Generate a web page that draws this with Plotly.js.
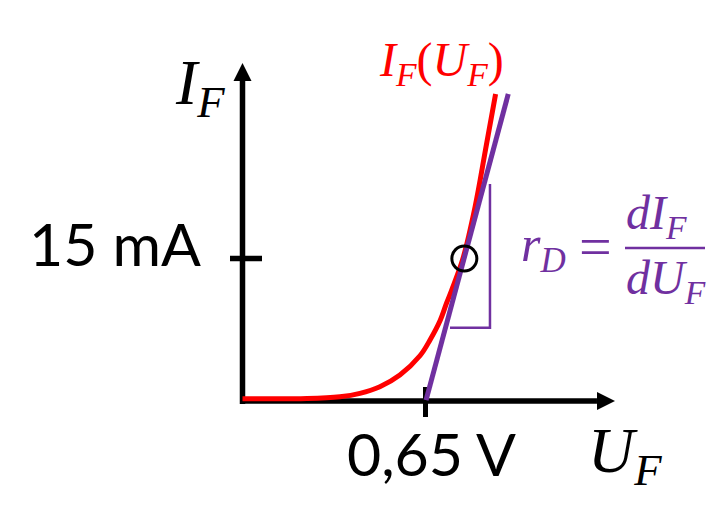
<!DOCTYPE html>
<html>
<head>
<meta charset="utf-8">
<script src="https://cdn.plot.ly/plotly-3.0.1.min.js"></script>
<style>html,body{margin:0;padding:0;background:#fff;}#chart{width:722px;height:509px;}</style>
</head>
<body>
<div id="chart"></div>
<script>
// ---- data (U in V, I in mA) ----
const U_curve = [0, 0.229, 0.346, 0.417, 0.488, 0.559, 0.631, 0.666, 0.702, 0.725, 0.743, 0.783, 0.826, 0.863, 0.899];
const I_curve = [0.24, 0.26, 0.45, 0.81, 1.51, 2.74, 4.79, 6.42, 8.47, 10.32, 11.68, 15.0, 20.42, 26.42, 32.32];
const U_tangent = [0.652, 0.944];
const I_tangent = [0.1, 32.32];
const U_point = [0.788];
const I_point = [15.0];
const U_triangle = [0.737, 0.879, 0.879];
const I_triangle = [7.72, 7.72, 22.84];
const xTickValue = 0.65, xTickLabel = '0,65 V';
const yTickValue = 15, yTickLabel = '15 mA';
const xAxisEnd = 1.323, yAxisEnd = 35.58;

const RED = '#ff0000', PURPLE = '#7030a0';
const W = 722, H = 509;
const xRange = [-0.86134, 1.70314];
const yRange = [-11.368, 42.21];
// helpers for label placement (pixel -> paper)
const px = p => p / W, py = p => 1 - p / H;
const uPerPx = (xRange[1] - xRange[0]) / W, iPerPx = (yRange[1] - yRange[0]) / H;

const traces = [
  {x: U_curve, y: I_curve, mode: 'lines', line: {color: RED, width: 5, shape: 'spline', smoothing: 1}, hoverinfo: 'skip'},
  {x: U_tangent, y: I_tangent, mode: 'lines', line: {color: PURPLE, width: 5}, hoverinfo: 'skip'},
  {x: U_triangle, y: I_triangle, mode: 'lines', line: {color: PURPLE, width: 2.5}, hoverinfo: 'skip'},
  {x: U_point, y: I_point, mode: 'markers', marker: {symbol: 'circle-open', size: 25, color: '#000', line: {width: 3, color: '#000'}}, hoverinfo: 'skip'}
];

const axW = 5.5;
const hw = 9 * uPerPx, hh = 9 * iPerPx, headLenU = 18 * uPerPx, headLenI = 18 * iPerPx;
const shapes = [
  // y axis
  {type: 'line', xref: 'x', yref: 'y', x0: 0, x1: 0, y0: -3 * iPerPx, y1: yAxisEnd - headLenI, line: {color: '#000', width: axW}, layer: 'below'},
  {type: 'path', xref: 'x', yref: 'y', path: `M ${-hw},${yAxisEnd - headLenI} L ${hw},${yAxisEnd - headLenI} L 0,${yAxisEnd} Z`, fillcolor: '#000', line: {width: 0}},
  // x axis
  {type: 'line', xref: 'x', yref: 'y', x0: -2.5 * uPerPx, x1: xAxisEnd - headLenU, y0: 0, y1: 0, line: {color: '#000', width: axW}, layer: 'below'},
  {type: 'path', xref: 'x', yref: 'y', path: `M ${xAxisEnd - headLenU},${-hh} L ${xAxisEnd - headLenU},${hh} L ${xAxisEnd},0 Z`, fillcolor: '#000', line: {width: 0}},
  // ticks
  {type: 'line', xref: 'x', yref: 'y', x0: xTickValue, x1: xTickValue, y0: 14 * iPerPx, y1: -16 * iPerPx, line: {color: '#000', width: 5}, layer: 'below'},
  {type: 'line', xref: 'x', yref: 'y', x0: -12.5 * uPerPx, x1: 19.5 * uPerPx, y0: yTickValue, y1: yTickValue, line: {color: '#000', width: 5.5}, layer: 'below'},
  // fraction bar
  {type: 'line', xref: 'paper', yref: 'paper', x0: px(625), x1: px(705), y0: py(248), y1: py(248), line: {color: PURPLE, width: 2.5}}
];

const serif = 'Liberation Serif, DejaVu Serif, serif';
const sans = 'Lato, Open Sans, sans-serif';
const ann = (text, x, y, size, color, family, xa, ya) => ({
  text, xref: 'paper', yref: 'paper', x: px(x), y: py(y), showarrow: false,
  xanchor: xa, yanchor: ya, font: {size, color, family}, borderpad: 0
});
const annotations = [
  ann('<i>I</i><sub><i>F</i></sub>', 174, 87, 64, '#000', serif, 'left', 'middle'),
  ann('<i>U</i><sub><i>F</i></sub>', 587, 455, 64, '#000', serif, 'left', 'middle'),
  ann('<i>I</i><sub><i>F</i></sub>(<i>U</i><sub><i>F</i></sub>)', 378, 63, 48, RED, serif, 'left', 'middle'),
  ann(yTickLabel, 202, 244, 59, '#000', sans, 'right', 'middle'),
  ann(xTickLabel, 431, 453, 59, '#000', sans, 'center', 'middle'),
  ann('<i>r</i><sub><i>D</i></sub>', 520, 248, 50, PURPLE, serif, 'left', 'middle'),
  ann('=', 595, 246, 58, PURPLE, serif, 'center', 'middle'),
  ann('<i>dI</i><sub><i>F</i></sub>', 625, 247, 48, PURPLE, serif, 'left', 'bottom'),
  ann('<i>dU</i><sub><i>F</i></sub>', 625, 250, 48, PURPLE, serif, 'left', 'top')
];

const layout = {
  width: W, height: H, autosize: false,
  margin: {l: 0, r: 0, t: 0, b: 0, pad: 0},
  paper_bgcolor: '#fff', plot_bgcolor: '#fff',
  showlegend: false,
  xaxis: {range: xRange, visible: false, fixedrange: true},
  yaxis: {range: yRange, visible: false, fixedrange: true},
  shapes, annotations
};
Plotly.newPlot('chart', traces, layout, {staticPlot: true, displayModeBar: false});
</script>
</body>
</html>
